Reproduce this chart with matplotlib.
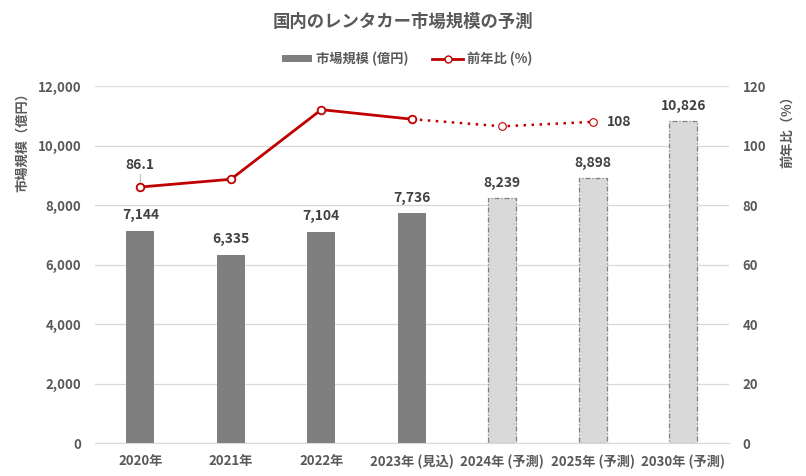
import matplotlib.pyplot as plt
from matplotlib.lines import Line2D
from matplotlib.patches import Patch

plt.rcParams['font.family'] = ['Noto Sans CJK JP', 'DejaVu Sans']

years = ['2020年', '2021年', '2022年', '2023年 (見込)', '2024年 (予測)', '2025年 (予測)', '2030年 (予測)']
market = [7144, 6335, 7104, 7736, 8239, 8898, 10826]
yoy = [86.1, 88.7, 112.1, 108.9, 106.5, 108.0]
n_actual = 4  # first 4 bars are actual/estimate, rest forecast

gray_txt = '#595959'
red = '#C00000'

fig = plt.figure(figsize=(8.06, 4.76), dpi=100)
ax = fig.add_axes([0.118, 0.069, 0.786, 0.75])
ax2 = ax.twinx()

x = list(range(len(years)))
for i in x:
    if i < n_actual:
        ax.bar(i, market[i], width=0.31, color='#7F7F7F', zorder=2)
    else:
        ax.bar(i, market[i], width=0.31, color='#D9D9D9', edgecolor='#7F7F7F',
               linewidth=0.9, linestyle=(0, (4, 1.5, 1, 1.5)), zorder=2)
    ax.annotate(f'{market[i]:,}', (i, market[i]), xytext=(0, 6), textcoords='offset points',
                ha='center', va='bottom', fontsize=10, fontweight='bold', color='#404040')

ax.set_ylim(0, 12000)
ax.set_xlim(-0.5, len(years) - 0.5)
ax.set_yticks(range(0, 12001, 2000))
ax.set_yticklabels([f'{v:,}' for v in range(0, 12001, 2000)])
ax.set_xticks(x)
ax.set_xticklabels(years)
ax.grid(axis='y', color='#D9D9D9', linewidth=0.9, zorder=0)
ax.set_axisbelow(True)

ax2.set_ylim(0, 120)
ax2.set_yticks(range(0, 121, 20))

for a in (ax, ax2):
    for s in a.spines.values():
        s.set_visible(False)
    a.tick_params(length=0, labelsize=9.5, labelcolor=gray_txt)
ax.spines['bottom'].set_visible(True)
ax.spines['bottom'].set_color('#D9D9D9')
ax.tick_params(axis='x', pad=8)
ax.tick_params(axis='y', pad=10)
ax2.tick_params(axis='y', pad=10)
for lab in ax.get_xticklabels() + ax.get_yticklabels() + ax2.get_yticklabels():
    lab.set_fontweight('bold')

# line: solid through 2023, dotted for forecast
ax2.plot(x[:n_actual], yoy[:n_actual], color=red, linewidth=2, zorder=3)
ax2.plot(x[n_actual - 1:len(yoy)], yoy[n_actual - 1:], color=red, linewidth=1.8,
         linestyle=(0, (1, 2.2)), zorder=3)
ax2.plot(x[:n_actual], yoy[:n_actual], linestyle='none', marker='o', markersize=5.5,
         markerfacecolor='white', markeredgecolor=red, markeredgewidth=1.3, zorder=4)
ax2.plot(x[n_actual:len(yoy)], yoy[n_actual:], linestyle='none', marker='o', markersize=5.5,
         markerfacecolor='white', markeredgecolor=red, markeredgewidth=0.8, zorder=4)

ax2.annotate('86.1', (0, yoy[0]), xytext=(0, 11), textcoords='offset points',
             ha='center', va='bottom', fontsize=10, fontweight='bold', color='#404040',
             arrowprops=dict(arrowstyle='-', color='#BFBFBF', lw=0.8, shrinkA=0, shrinkB=3))
ax2.annotate('108', (5, yoy[5]), xytext=(10, 0), textcoords='offset points',
             ha='left', va='center', fontsize=10, fontweight='bold', color='#404040')

fig.text(0.5, 0.955, '国内のレンタカー市場規模の予測', ha='center', va='center',
         fontsize=12.5, fontweight='bold', color=gray_txt)
fig.text(0.027, 0.819, '市場規模（億円）', rotation=90, ha='center', va='top',
         fontsize=9.5, fontweight='bold', color=gray_txt)
fig.text(0.977, 0.812, '前年比（%）', rotation=90, ha='center', va='top',
         fontsize=9.5, fontweight='bold', color=gray_txt)

handles = [Patch(facecolor='#7F7F7F', label='市場規模 (億円)'),
           Line2D([0], [0], color=red, linewidth=2, marker='o', markersize=5,
                  markerfacecolor='white', markeredgecolor=red, label='前年比 (%)')]
fig.legend(handles=handles, loc='center', bbox_to_anchor=(0.505, 0.876), ncol=2, frameon=False,
           prop={'size': 9.5, 'weight': 'bold'}, labelcolor=gray_txt, handlelength=2.3,
           handleheight=0.5, columnspacing=1.8, handletextpad=0.3)

fig.savefig('out.png', dpi=100)
